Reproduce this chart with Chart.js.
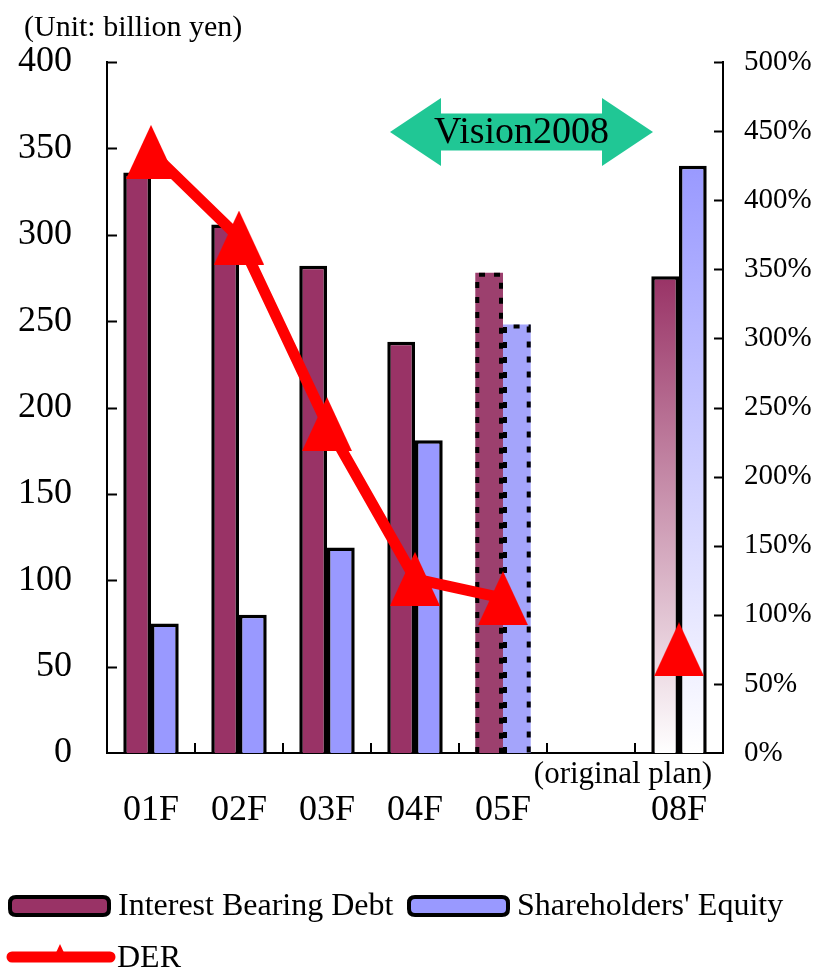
<!DOCTYPE html>
<html>
<head>
<meta charset="utf-8">
<script src="https://cdn.jsdelivr.net/npm/chart.js@4/dist/chart.umd.min.js"></script>
<style>
  html, body { margin: 0; padding: 0; background: #fff; }
  #wrap { width: 816px; height: 974px; position: relative; }
</style>
</head>
<body>
<div id="wrap"><canvas id="c"></canvas></div>
<script>
// Fiscal years on the category axis (the blank slot separates the plan year)
const fiscalYears = ['01F', '02F', '03F', '04F', '05F', '', '08F'];
// Billion yen
const interestBearingDebt = [336, 306, 282, 238, 278, null, 276];
const shareholdersEquity  = [75, 80, 119, 181, 248, null, 340];
// Debt / equity ratio, percent
const derPercent = [435, 373, 238, 126, 112, null, 75];
// How each year is shown: results, forecast, original plan
const yearKind = ['result', 'result', 'result', 'result', 'forecast', 'none', 'plan'];

const leftTicks  = { min: 0, max: 400, step: 50 };
const rightTicks = { min: 0, max: 500, step: 50 };

const SERIF = '"Liberation Serif", "Times New Roman", serif';
const DEBT = '#993366', DEBT_FC = '#9c406e';
const EQUITY = '#9999ff', EQUITY_FC = '#a4a4fb';
const DER_RED = '#ff0000';
const VISION_GREEN = '#20c795';

// Tall triangle marker used for the DER points
function triangleMarker(w, h, color) {
  const c = document.createElement('canvas');
  c.width = w; c.height = h;
  const g = c.getContext('2d');
  g.fillStyle = color;
  g.beginPath();
  g.moveTo(w / 2, 0); g.lineTo(w, h); g.lineTo(0, h);
  g.closePath(); g.fill();
  return c;
}
const derMarker = triangleMarker(50, 54, DER_RED);

// Plan-year bars fade from the series colour down to white
function barFill(solid, forecast) {
  return (ctx) => {
    const i = ctx.dataIndex;
    if (i === undefined) return solid;
    const kind = yearKind[i];
    if (kind === 'forecast') return forecast;
    if (kind === 'plan') {
      const y = ctx.chart.scales && ctx.chart.scales.y;
      const v = ctx.raw;
      if (!y || v == null) return solid;
      const top = y.getPixelForValue(v), bottom = y.getPixelForValue(0);
      const grad = ctx.chart.ctx.createLinearGradient(0, top, 0, bottom);
      grad.addColorStop(0, solid);
      grad.addColorStop(1, '#ffffff');
      return grad;
    }
    return solid;
  };
}
const barBorder = (ctx) => (yearKind[ctx.dataIndex] === 'forecast' ? 0 : 3.5);

// Short inward tick marks on all three axes
const insideTicks = {
  id: 'insideTicks',
  afterDraw(chart) {
    const { ctx, chartArea: a, scales } = chart;
    ctx.save();
    ctx.strokeStyle = '#000';
    ctx.lineWidth = 2;
    ctx.beginPath();
    scales.y.ticks.forEach((t, i) => {
      if (t.value === 0) return;
      const py = Math.round(scales.y.getPixelForTick(i)) + 0.5;
      ctx.moveTo(a.left, py); ctx.lineTo(a.left + 10, py);
    });
    scales.y2.ticks.forEach((t, i) => {
      if (t.value === 0) return;
      const py = Math.round(scales.y2.getPixelForTick(i)) + 0.5;
      ctx.moveTo(a.right, py); ctx.lineTo(a.right - 9, py);
    });
    for (let i = 1; i < fiscalYears.length; i++) {
      const px = Math.round((scales.x.getPixelForValue(i - 1) + scales.x.getPixelForValue(i)) / 2);
      ctx.moveTo(px, a.bottom); ctx.lineTo(px, a.bottom - 10);
    }
    ctx.stroke();
    ctx.restore();
  }
};

// Dotted outline around the forecast-year bars, drawn just before the DER line
const forecastOutline = {
  id: 'forecastOutline',
  beforeDatasetDraw(chart, args) {
    if (args.index !== 2) return;
    const { ctx } = chart;
    ctx.save();
    ctx.strokeStyle = '#000';
    ctx.lineWidth = 4;
    ctx.setLineDash([6, 9]);
    [0, 1].forEach((d) => {
      const meta = chart.getDatasetMeta(d);
      yearKind.forEach((k, i) => {
        if (k !== 'forecast') return;
        const el = meta.data[i];
        if (!el) return;
        const { x, y, base, width } = el.getProps(['x', 'y', 'base', 'width'], true);
        const l = x - width / 2 + 2, r = x + width / 2 - 2;
        ctx.beginPath();
        ctx.moveTo(l, base); ctx.lineTo(l, y + 2); ctx.lineTo(r, y + 2); ctx.lineTo(r, base);
        ctx.stroke();
      });
    });
    ctx.restore();
  }
};

// Captions and the Vision2008 arrow
const captions = {
  id: 'captions',
  afterDraw(chart) {
    const { ctx, chartArea: a, scales: { x } } = chart;
    ctx.save();
    ctx.fillStyle = '#000';
    ctx.textBaseline = 'middle';
    ctx.textAlign = 'left';
    ctx.font = `30px ${SERIF}`;
    ctx.fillText('(Unit: billion yen)', 24, 28);

    ctx.textAlign = 'right';
    ctx.font = `31px ${SERIF}`;
    ctx.fillText('(original plan)', x.getPixelForValue(6) + 33, a.bottom + 22);

    const cy = a.top + 70;
    const x0 = x.getPixelForValue(3) - 25;
    const x1 = x.getPixelForValue(6) - 26;
    const head = 51, hh = 34, bh = 18.5;
    ctx.fillStyle = VISION_GREEN;
    ctx.beginPath();
    ctx.moveTo(x0, cy);
    ctx.lineTo(x0 + head, cy - hh);
    ctx.lineTo(x0 + head, cy - bh);
    ctx.lineTo(x1 - head, cy - bh);
    ctx.lineTo(x1 - head, cy - hh);
    ctx.lineTo(x1, cy);
    ctx.lineTo(x1 - head, cy + hh);
    ctx.lineTo(x1 - head, cy + bh);
    ctx.lineTo(x0 + head, cy + bh);
    ctx.lineTo(x0 + head, cy + hh);
    ctx.closePath();
    ctx.fill();
    ctx.fillStyle = '#000';
    ctx.textAlign = 'center';
    ctx.font = `38px ${SERIF}`;
    ctx.fillText('Vision2008', (x0 + x1) / 2, cy + 1);
    ctx.restore();
  }
};

// Legend in two rows under the axis
const bottomLegend = {
  id: 'bottomLegend',
  afterDraw(chart) {
    const { ctx } = chart;
    const ds = chart.data.datasets;
    const row1 = chart.height - 68, row2 = chart.height - 17;
    ctx.save();
    ctx.font = `32px ${SERIF}`;
    ctx.textBaseline = 'middle';
    ctx.textAlign = 'left';
    const box = (x, y, fill) => {
      const w = 99, h = 18, r = 6;
      ctx.beginPath();
      ctx.moveTo(x + r, y - h / 2);
      ctx.lineTo(x + w - r, y - h / 2);
      ctx.quadraticCurveTo(x + w, y - h / 2, x + w, y - h / 2 + r);
      ctx.lineTo(x + w, y + h / 2 - r);
      ctx.quadraticCurveTo(x + w, y + h / 2, x + w - r, y + h / 2);
      ctx.lineTo(x + r, y + h / 2);
      ctx.quadraticCurveTo(x, y + h / 2, x, y + h / 2 - r);
      ctx.lineTo(x, y - h / 2 + r);
      ctx.quadraticCurveTo(x, y - h / 2, x + r, y - h / 2);
      ctx.closePath();
      ctx.fillStyle = fill;
      ctx.fill();
      ctx.lineWidth = 4;
      ctx.strokeStyle = '#000';
      ctx.stroke();
      ctx.fillStyle = '#000';
      return x + w + 9;
    };
    let tx = box(10, row1, DEBT);
    ctx.fillText(ds[0].label, tx, row1 + 1);
    tx = box(409, row1, EQUITY);
    ctx.fillText(ds[1].label, tx, row1 + 1);

    ctx.strokeStyle = DER_RED;
    ctx.lineWidth = 11;
    ctx.lineCap = 'round';
    ctx.beginPath();
    ctx.moveTo(12, row2); ctx.lineTo(110, row2);
    ctx.stroke();
    ctx.fillStyle = DER_RED;
    ctx.beginPath();
    ctx.moveTo(60, row2 - 13); ctx.lineTo(66, row2); ctx.lineTo(54, row2);
    ctx.closePath(); ctx.fill();
    ctx.fillStyle = '#000';
    ctx.fillText(ds[2].label, 117, row2 + 2);
    ctx.restore();
  }
};

new Chart(document.getElementById('c'), {
  data: {
    labels: fiscalYears,
    datasets: [
      {
        type: 'bar',
        label: 'Interest Bearing Debt',
        data: interestBearingDebt,
        yAxisID: 'y',
        backgroundColor: barFill(DEBT, DEBT_FC),
        borderColor: '#000',
        borderWidth: barBorder,
        borderSkipped: 'start',
        categoryPercentage: 0.63,
        barPercentage: 1.0,
        order: 1
      },
      {
        type: 'bar',
        label: "Shareholders' Equity",
        data: shareholdersEquity,
        yAxisID: 'y',
        backgroundColor: barFill(EQUITY, EQUITY_FC),
        borderColor: '#000',
        borderWidth: barBorder,
        borderSkipped: 'start',
        categoryPercentage: 0.63,
        barPercentage: 1.0,
        order: 1
      },
      {
        type: 'line',
        label: 'DER',
        data: derPercent,
        yAxisID: 'y2',
        borderColor: DER_RED,
        backgroundColor: DER_RED,
        borderWidth: 11,
        borderJoinStyle: 'round',
        borderCapStyle: 'round',
        pointStyle: derMarker,
        pointRadius: 26,
        spanGaps: false,
        tension: 0,
        clip: false,
        order: 0
      }
    ]
  },
  options: {
    responsive: true,
    maintainAspectRatio: false,
    animation: false,
    layout: { padding: { top: 62, left: 0, right: 0, bottom: 0 } },
    plugins: { legend: { display: false }, tooltip: { enabled: false } },
    scales: {
      x: {
        type: 'category',
        grid: { display: false },
        border: { display: true, color: '#000', width: 2 },
        ticks: { color: '#000', font: { family: SERIF, size: 36 }, padding: 28, maxRotation: 0, autoSkip: false },
        afterFit: (s) => { s.height = 221; }
      },
      y: {
        position: 'left',
        min: leftTicks.min, max: leftTicks.max,
        grid: { display: false },
        border: { display: true, color: '#000', width: 2 },
        ticks: { stepSize: leftTicks.step, color: '#000', font: { family: SERIF, size: 36 }, padding: 27 },
        afterFit: (s) => { s.width = 107; }
      },
      y2: {
        position: 'right',
        min: rightTicks.min, max: rightTicks.max,
        grid: { display: false },
        border: { display: true, color: '#000', width: 2 },
        ticks: { stepSize: rightTicks.step, color: '#000', font: { family: SERIF, size: 29 }, padding: 13,
                 callback: (v) => v + '%' },
        afterFit: (s) => { s.width = 93; }
      }
    }
  },
  plugins: [insideTicks, forecastOutline, captions, bottomLegend]
});
</script>
</body>
</html>
